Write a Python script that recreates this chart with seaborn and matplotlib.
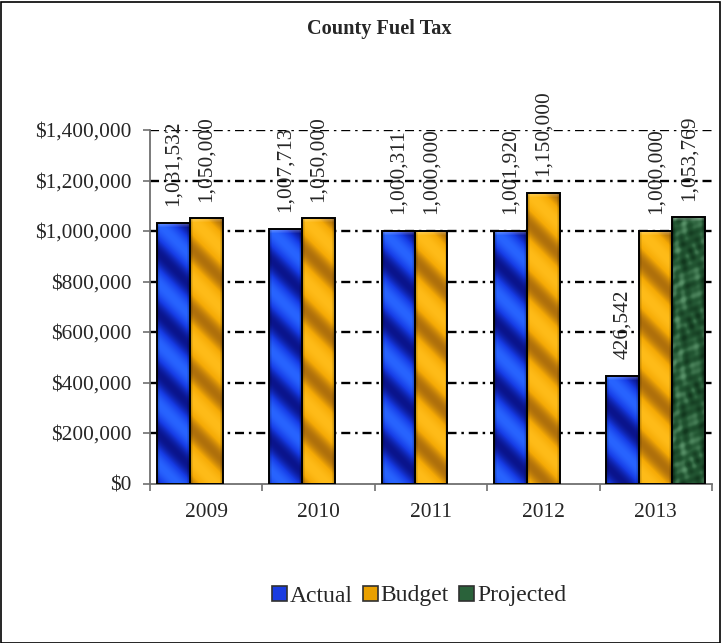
import numpy as np
import pandas as pd
import matplotlib
matplotlib.use("Agg")
import matplotlib.pyplot as plt
from matplotlib.patches import Patch, Rectangle
from matplotlib.ticker import FuncFormatter, FixedLocator
import seaborn as sns

# ---- data ----
years = ["2009", "2010", "2011", "2012", "2013"]
actual = [1031532, 1007713, 1000311, 1001920, 426542]
budget = [1050000, 1050000, 1000000, 1150000, 1000000]
projected_year = ["2013"]
projected = [1053769]
series = ["Actual", "Budget", "Projected"]
yticks = [0, 200000, 400000, 600000, 800000, 1000000, 1200000, 1400000]

rows = []
for y, v in zip(years, actual):
    rows.append((y, "Actual", v))
for y, v in zip(years, budget):
    rows.append((y, "Budget", v))
for y, v in zip(projected_year, projected):
    rows.append((y, "Projected", v))
df = pd.DataFrame(rows, columns=["Year", "Series", "Value"])

# ---- style ----
sns.set_style("white")
plt.rcParams["font.family"] = ["Liberation Serif", "DejaVu Serif"]
plt.rcParams["lines.scale_dashes"] = False

FS = 15.4
solid = {"Actual": "#1a3ce0", "Budget": "#e9a000", "Projected": "#2a623a"}

fig = plt.figure(figsize=(7.22, 6.43), dpi=100)
ax = fig.add_axes([150 / 722, 1 - 483.5 / 643, (712 - 150) / 722, (483.5 - 130) / 643])

sns.barplot(data=df, x="Year", y="Value", hue="Series", order=years,
            hue_order=series, palette=solid, width=0.88, gap=0,
            errorbar=None, edgecolor="black", linewidth=1.4,
            legend=False, ax=ax, zorder=3)

ax.set_ylim(0, 1400000)
ax.set_xlim(-0.5, len(years) - 0.5)
ax.set_xlabel("")
ax.set_ylabel("")

# ---- shaded fills for each bar ----
PALETTES = {
    "Actual": ([22, 60, 230], [40, 100, 255], [10, 20, 140]),
    "Budget": ([245, 170, 5], [255, 188, 25], [175, 112, 12]),
    "Projected": ([36, 88, 52], [88, 145, 104], [18, 56, 30]),
}


def shade(kind, wpx, hpx):
    yy, xx = np.mgrid[0:hpx, 0:wpx].astype(float)
    base, light, dark = (np.array(c) / 255 for c in PALETTES[kind])
    if kind == "Projected":
        c = (0.6 * np.sin(xx * 0.28 + np.sin(yy * 0.09) * 2.0) *
             np.cos(yy * 0.17 + np.sin(xx * 0.15) * 1.5) +
             0.35 * np.sin(xx * 0.5 + yy * 0.33) * np.cos(yy * 0.41 - xx * 0.23))
        c = np.clip(c * 1.2, -1, 1)
    else:
        c = np.cos(2 * np.pi * (xx - yy) / 60.0)
    up = np.clip(c, 0, None)[..., None]
    dn = np.clip(-c, 0, None)[..., None]
    img = base + (light - base) * up + (dark - base) * dn
    # bevel: bright top rim, slightly darker sides
    rim = np.clip(1 - yy / 5.0, 0, 1)[..., None]
    img = img + (1 - img) * 0.35 * rim
    side = np.clip(1 - np.minimum(xx, wpx - 1 - xx) / 3.0, 0, 1)[..., None]
    img = img * (1 - 0.25 * side)
    return np.clip(img, 0, 1)


px_per_unit_y = (483.5 - 130) / 1400000
px_per_unit_x = (712 - 150) / len(years)
bars = [p for p in ax.patches if isinstance(p, Rectangle)]
hue_of_bar = []
# seaborn adds bars series by series in hue order
for s in series:
    hue_of_bar += [s] * len(df[df.Series == s])
for p, s in zip(bars, hue_of_bar):
    x0, y0 = p.get_x(), p.get_y()
    w, h = p.get_width(), p.get_height()
    if h <= 0:
        continue
    wpx = max(int(round(w * px_per_unit_x)), 2)
    hpx = max(int(round(h * px_per_unit_y)), 2)
    img = shade(s, wpx, hpx)
    im = ax.imshow(img, extent=[x0, x0 + w, y0, y0 + h], aspect="auto",
                   origin="upper", zorder=3.05, interpolation="bilinear")
    im.set_clip_path(p)
    p.set_facecolor("none")
    p.set_zorder(3.1)
ax.set_xlim(-0.5, len(years) - 0.5)
ax.set_ylim(0, 1400000)
ax.set_aspect("auto")

# ---- value labels ----
for p, s in zip(bars, hue_of_bar):
    h = p.get_height()
    if h <= 0:
        continue
    ax.annotate(f"{int(round(h)):,}", (p.get_x() + p.get_width() / 2, h),
                xytext=(0, 12), textcoords="offset points", rotation=90,
                ha="center", va="bottom", fontsize=FS, zorder=5)

# ---- axes, ticks, grid ----
ax.yaxis.set_major_locator(FixedLocator(yticks))
ax.yaxis.set_major_formatter(FuncFormatter(lambda v, _: f"${int(v):,}"))
ax.tick_params(axis="y", left=True, length=5, width=1.2, color="#707070",
               pad=8.5, labelsize=FS)
ax.set_xticks(range(len(years)))
ax.set_xticklabels(years)
ax.set_xticks(np.arange(-0.5, len(years), 1.0), minor=True)
ax.tick_params(axis="x", which="major", length=0, pad=14, labelsize=FS)
ax.tick_params(axis="x", which="minor", bottom=True, length=5, width=1.2,
               color="#707070")

for sp in ["top", "right"]:
    ax.spines[sp].set_visible(False)
for sp in ["left", "bottom"]:
    ax.spines[sp].set_color("#707070")
    ax.spines[sp].set_linewidth(1.3)

for v in yticks[1:]:
    ax.axhline(v, color="black", linewidth=1.7,
               linestyle=(0, (6.5, 3.5, 1.8, 3.5)), zorder=1)

# ---- title, legend, frame ----
fig.text(379 / 722, 1 - 29 / 643, "County Fuel Tax", ha="center", va="center",
         fontsize=14.6, fontweight="bold")

handles = [Patch(facecolor=solid[s], edgecolor="#303030", linewidth=1.2, label=s)
           for s in series]
fig.legend(handles=handles, loc="center", bbox_to_anchor=(419 / 722, 1 - 596 / 643),
           ncol=3, frameon=False, fontsize=17, handlelength=0.62, handleheight=0.62,
           handletextpad=0.12, columnspacing=0.45, borderpad=0)

fig.patches.append(Rectangle((0.5 / 722, 0.5 / 643), 1 - 2.5 / 722, 1 - 2.5 / 643,
                             transform=fig.transFigure, fill=False,
                             edgecolor="black", linewidth=1.2))

fig.savefig("out.png", dpi=100, facecolor="white")
